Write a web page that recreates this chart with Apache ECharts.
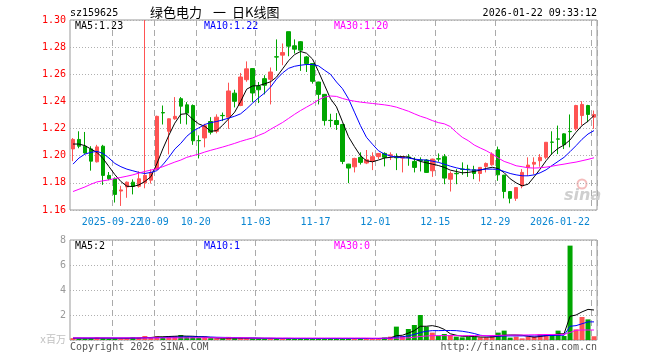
<!DOCTYPE html>
<html><head><meta charset="utf-8">
<script src="https://cdn.jsdelivr.net/npm/echarts@6/dist/echarts.min.js"></script>
<style>html,body{margin:0;padding:0;background:#fff}#c{width:660px;height:360px}</style>
</head><body><div id="c"></div><script>
const dates = [
 '2025-09-11','2025-09-12','2025-09-15','2025-09-16','2025-09-17','2025-09-18','2025-09-19','2025-09-22','2025-09-23','2025-09-24',
 '2025-09-25','2025-09-26','2025-09-29','2025-09-30','2025-10-09','2025-10-10','2025-10-13','2025-10-14','2025-10-15','2025-10-16',
 '2025-10-17','2025-10-20','2025-10-21','2025-10-22','2025-10-23','2025-10-24','2025-10-27','2025-10-28','2025-10-29','2025-10-30',
 '2025-10-31','2025-11-03','2025-11-04','2025-11-05','2025-11-06','2025-11-07','2025-11-10','2025-11-11','2025-11-12','2025-11-13',
 '2025-11-14','2025-11-17','2025-11-18','2025-11-19','2025-11-20','2025-11-21','2025-11-24','2025-11-25','2025-11-26','2025-11-27',
 '2025-11-28','2025-12-01','2025-12-02','2025-12-03','2025-12-04','2025-12-05','2025-12-08','2025-12-09','2025-12-10','2025-12-11',
 '2025-12-12','2025-12-15','2025-12-16','2025-12-17','2025-12-18','2025-12-19','2025-12-22','2025-12-23','2025-12-24','2025-12-25',
 '2025-12-26','2025-12-29','2025-12-30','2025-12-31','2026-01-05','2026-01-06','2026-01-07','2026-01-08','2026-01-09','2026-01-12',
 '2026-01-13','2026-01-14','2026-01-15','2026-01-16','2026-01-19','2026-01-20','2026-01-21','2026-01-22'];
const opens = [
 1.205,1.212,1.207,1.205,1.1955,1.207,1.1855,1.183,1.174,1.177,
 1.1805,1.1775,1.180,1.182,1.190,1.2318,1.218,1.2272,1.242,1.2375,
 1.237,1.2112,1.2131,1.2252,1.218,1.2297,1.2284,1.2461,1.237,1.256,
 1.2642,1.2511,1.2568,1.2563,1.2729,1.2741,1.2914,1.281,1.284,1.2728,
 1.2679,1.2543,1.2452,1.2261,1.2259,1.223,1.1938,1.1918,1.1988,1.1946,
 1.1958,1.1993,1.2017,1.2000,1.1988,1.1983,1.1990,1.1958,1.1968,1.1968,
 1.1889,1.1978,1.1993,1.1827,1.1870,1.1902,1.1901,1.1897,1.1869,1.1921,
 1.1933,1.2044,1.1857,1.1736,1.1686,1.1778,1.1914,1.1938,1.1963,1.1988,
 1.2101,1.2124,1.2161,1.2179,1.2198,1.2296,1.2370,1.2284];
const closes = [
 1.212,1.207,1.202,1.196,1.2065,1.1855,1.183,1.1715,1.1748,1.1805,
 1.1775,1.183,1.1855,1.1875,1.229,1.2315,1.2272,1.229,1.2365,1.2314,
 1.211,1.211,1.2222,1.2173,1.2284,1.2295,1.2477,1.2401,1.258,1.264,
 1.2462,1.2486,1.2519,1.2617,1.2727,1.276,1.2807,1.2785,1.2778,1.2679,
 1.2548,1.2452,1.2259,1.2259,1.223,1.1958,1.1909,1.198,1.1951,1.197,
 1.1993,1.2017,1.1988,1.2007,1.1985,1.1993,1.1988,1.1914,1.1965,1.1877,
 1.1975,1.1975,1.1835,1.1869,1.1867,1.1899,1.1899,1.1869,1.1914,1.1943,
 1.2012,1.1859,1.1736,1.1686,1.1765,1.1877,1.1931,1.1951,1.1988,1.2099,
 1.2099,1.2122,1.2081,1.2177,1.2370,1.2378,1.2304,1.2304];
const lows = [
 1.196,1.2055,1.2015,1.189,1.195,1.1785,1.182,1.1655,1.163,1.169,
 1.1715,1.1765,1.176,1.1795,1.1895,1.223,1.201,1.2265,1.2235,1.223,
 1.208,1.198,1.2062,1.2156,1.2165,1.2255,1.2198,1.2356,1.2365,1.2545,
 1.2395,1.2388,1.2452,1.2378,1.2625,1.2667,1.2733,1.2753,1.2625,1.2617,
 1.2531,1.2378,1.2222,1.221,1.219,1.1938,1.1798,1.1877,1.1935,1.1938,
 1.1894,1.1975,1.1921,1.1968,1.1894,1.1877,1.1926,1.1877,1.1884,1.1873,
 1.1844,1.1956,1.179,1.1736,1.179,1.1859,1.1844,1.1827,1.181,1.1877,
 1.1926,1.1815,1.1686,1.1649,1.1667,1.176,1.1852,1.1864,1.1919,1.1975,
 1.2007,1.2012,1.2049,1.2062,1.2185,1.2222,1.2247,1.2198];
const highs = [
 1.213,1.218,1.2175,1.207,1.208,1.208,1.188,1.184,1.1778,1.181,
 1.1825,1.1885,1.30,1.19,1.2295,1.237,1.2275,1.2432,1.2432,1.2395,
 1.2378,1.215,1.2235,1.2284,1.2305,1.2318,1.2538,1.2486,1.261,1.2695,
 1.2645,1.2543,1.2593,1.265,1.2857,1.2827,1.2914,1.2857,1.2845,1.2735,
 1.268,1.2545,1.2455,1.2309,1.2314,1.2235,1.194,1.1985,1.2025,1.2042,
 1.2025,1.2019,1.2025,1.2025,1.2017,1.1995,1.2012,1.1988,1.1988,1.1975,
 1.1978,1.2017,1.2012,1.1884,1.1901,1.1951,1.1933,1.1926,1.1916,1.195,
 1.2025,1.2067,1.1857,1.1736,1.1765,1.1901,1.1988,1.1988,1.2012,1.2099,
 1.218,1.2222,1.2165,1.2304,1.2375,1.2402,1.2375,1.2333];
const ma5 = [
 1.2086,1.2086,1.2074,1.2049,1.2025,1.1980,1.1920,1.1860,1.1810,1.1775,
 1.1773,1.1785,1.1810,1.1845,1.1940,1.2050,1.2150,1.2240,1.2305,1.2310,
 1.2268,1.2234,1.2217,1.2180,1.2185,1.2225,1.2272,1.2321,1.2400,1.2490,
 1.2514,1.2516,1.2530,1.2545,1.2580,1.2640,1.2700,1.2745,1.2768,1.2755,
 1.2712,1.2620,1.2520,1.2420,1.2360,1.2250,1.2140,1.2067,1.2000,1.1963,
 1.1955,1.1968,1.1983,1.1988,1.1993,1.1993,1.1990,1.1975,1.1958,1.1948,
 1.1938,1.1928,1.1914,1.1894,1.1884,1.1874,1.1877,1.1884,1.1894,1.1906,
 1.1915,1.1905,1.1875,1.1830,1.1800,1.1778,1.1790,1.1844,1.1901,1.1963,
 1.2017,1.2054,1.2079,1.2116,1.2173,1.2222,1.2254,1.2296];
const ma10 = [
 1.1938,1.1983,1.2012,1.2025,1.2032,1.2017,1.1983,1.1943,1.1919,1.1901,
 1.1889,1.1877,1.1869,1.1877,1.1890,1.1933,1.1988,1.2049,1.2091,1.2143,
 1.2180,1.2205,1.2230,1.2244,1.2252,1.2264,1.2277,1.2291,1.2309,1.2346,
 1.2388,1.2427,1.2462,1.2506,1.2565,1.2610,1.2644,1.2659,1.2667,1.2672,
 1.2672,1.2662,1.2630,1.2600,1.2543,1.2494,1.2420,1.2321,1.2222,1.2136,
 1.2085,1.2037,1.2012,1.1998,1.1990,1.1985,1.1983,1.1975,1.1970,1.1968,
 1.1960,1.1951,1.1938,1.1923,1.1911,1.1901,1.1896,1.1894,1.1896,1.1901,
 1.1901,1.1899,1.1884,1.1869,1.1859,1.1852,1.1852,1.1859,1.1874,1.1896,
 1.1928,1.1958,1.1988,1.2030,1.2074,1.2121,1.2160,1.2185];
const ma30 = [
 1.1736,1.1753,1.1770,1.1790,1.1807,1.1815,1.1822,1.1832,1.1840,1.1849,
 1.1859,1.1872,1.1884,1.1894,1.1904,1.1919,1.1936,1.1953,1.1968,1.1988,
 1.2000,1.2012,1.2027,1.2040,1.2052,1.2064,1.2077,1.2091,1.2106,1.2119,
 1.2131,1.2150,1.2168,1.2195,1.2220,1.2245,1.2275,1.2305,1.2333,1.2358,
 1.2383,1.2412,1.2432,1.2440,1.2437,1.2422,1.2410,1.2402,1.2395,1.2390,
 1.2385,1.2380,1.2375,1.2368,1.2358,1.2343,1.2328,1.2309,1.2291,1.2277,
 1.2259,1.2244,1.2235,1.2215,1.2173,1.2136,1.2111,1.2079,1.2057,1.2037,
 1.2012,1.1983,1.1958,1.1943,1.1926,1.1919,1.1911,1.1909,1.1911,1.1916,
 1.1923,1.1931,1.1938,1.1946,1.1953,1.1963,1.1973,1.1985];
const volumes = [
 0.15,0.12,0.12,0.15,0.21,0.15,0.12,0.13,0.12,0.15,
 0.22,0.20,0.32,0.20,0.30,0.25,0.32,0.32,0.40,0.28,
 0.27,0.20,0.28,0.15,0.13,0.12,0.25,0.15,0.18,0.15,
 0.12,0.12,0.10,0.12,0.13,0.10,0.15,0.12,0.12,0.10,
 0.12,0.13,0.12,0.10,0.12,0.13,0.12,0.10,0.12,0.10,
 0.12,0.15,0.20,0.27,1.07,0.32,0.88,1.20,2.00,1.07,
 0.59,0.35,0.48,0.40,0.27,0.21,0.27,0.27,0.21,0.21,
 0.37,0.59,0.75,0.19,0.27,0.13,0.27,0.27,0.48,0.48,
 0.40,0.75,0.32,7.55,0.85,1.84,1.65,0.30];
const volMa5 = [
 0.15,0.15,0.14,0.14,0.15,0.15,0.15,0.14,0.14,0.14,
 0.15,0.16,0.20,0.20,0.25,0.26,0.28,0.30,0.32,0.31,
 0.30,0.27,0.25,0.20,0.16,0.14,0.15,0.15,0.15,0.15,
 0.15,0.14,0.13,0.13,0.12,0.12,0.12,0.12,0.12,0.12,
 0.12,0.12,0.12,0.12,0.12,0.12,0.12,0.12,0.12,0.12,
 0.12,0.12,0.13,0.16,0.35,0.38,0.55,0.75,1.10,1.10,
 1.15,1.05,0.85,0.50,0.38,0.30,0.30,0.28,0.24,0.23,
 0.24,0.30,0.38,0.40,0.40,0.38,0.30,0.23,0.28,0.35,
 0.38,0.48,0.50,1.90,2.00,2.25,2.45,2.40];
const volMa10 = [
 0.16,0.16,0.16,0.16,0.16,0.16,0.16,0.16,0.16,0.16,
 0.16,0.16,0.17,0.17,0.19,0.20,0.22,0.23,0.24,0.25,
 0.25,0.25,0.25,0.24,0.22,0.21,0.20,0.19,0.18,0.17,
 0.16,0.15,0.14,0.14,0.13,0.13,0.13,0.12,0.12,0.12,
 0.12,0.12,0.12,0.12,0.12,0.12,0.12,0.12,0.12,0.12,
 0.12,0.12,0.13,0.14,0.23,0.26,0.33,0.45,0.60,0.70,
 0.75,0.75,0.76,0.76,0.75,0.70,0.62,0.52,0.38,0.33,
 0.32,0.30,0.32,0.33,0.33,0.33,0.33,0.32,0.33,0.35,
 0.36,0.38,0.38,1.10,1.15,1.30,1.45,1.45];
const volMa30 = [
 0.17,0.17,0.17,0.17,0.17,0.17,0.17,0.17,0.17,0.17,
 0.17,0.17,0.17,0.17,0.17,0.17,0.17,0.17,0.17,0.17,
 0.18,0.18,0.18,0.18,0.18,0.18,0.18,0.18,0.18,0.18,
 0.16,0.16,0.16,0.16,0.16,0.16,0.16,0.16,0.16,0.16,
 0.16,0.16,0.16,0.16,0.16,0.16,0.16,0.16,0.16,0.16,
 0.15,0.15,0.15,0.15,0.15,0.15,0.18,0.22,0.28,0.32,
 0.35,0.35,0.35,0.35,0.35,0.35,0.35,0.35,0.35,0.35,
 0.36,0.37,0.38,0.39,0.40,0.40,0.41,0.42,0.43,0.44,
 0.44,0.45,0.45,0.60,0.78,0.80,0.80,0.80];
const tickDates = ['2025-09-22','2025-10-09','2025-10-20','2025-11-03','2025-11-17','2025-12-01','2025-12-15','2025-12-29','2026-01-22'];
const tickLabels = ['2025-09-22','10-09','10-20','11-03','11-17','12-01','12-15','12-29','2026-01-22'];
const priceLegend = ['MA5:1.23','MA10:1.22','MA30:1.20'];
const volLegend = ['MA5:2','MA10:1','MA30:0'];
const titleParts = ['绿色电力', '一', '日K线图'];

const MONO = '"DejaVu Sans Mono","Liberation Mono","Noto Sans CJK SC",monospace';
const CJK = '13px "Noto Sans CJK SC"';
const RED = '#ff5353', GREEN = '#00a600';
const tickIdx = new Set(tickDates.map(d => dates.indexOf(d)));
const isTick = (i) => tickIdx.has(i);
const firstTick = dates.indexOf(tickDates[0]);
const isLaterTick = (i) => tickIdx.has(i) && i !== firstTick;
const isFirstTick = (i) => i === firstTick;
const kData = dates.map((d, i) => [opens[i], closes[i], lows[i], highs[i]]);
const volData = volumes.map((v, i) => ({value: v, itemStyle: {color: closes[i] >= opens[i] ? RED : GREEN}}));

const chart = echarts.init(document.getElementById('c'), null, {renderer: 'canvas'});
const vSplit = {show: true, interval: isTick, lineStyle: {color: '#aaaaaa', width: 1, type: [6, 4]}};
const hSplit = {show: true, lineStyle: {color: '#b0b0b0', width: 1, type: [1, 2]}};
const labelFmt = (v) => {
  const k = tickDates.indexOf(v);
  if (k < 0) return '';
  return (k === tickDates.length - 1 ? '{b|' : '{a|') + tickLabels[k] + '}';
};
const labelRich = {
  a: {fontFamily: MONO, fontSize: 10, color: '#0a86d2', padding: [0, 6, 0, 0]},
  b: {fontFamily: MONO, fontSize: 10, color: '#0a86d2', padding: [0, 68, 0, 0]}
};
const lineS = (name, data, color, xi, yi) => ({
  name, type: 'line', data, xAxisIndex: xi, yAxisIndex: yi, showSymbol: false, symbol: 'none',
  lineStyle: {color, width: 1}, itemStyle: {color}, animation: false, silent: true, z: 5
});
const txt = (text, x, y, fill, align, font) => ({
  type: 'text', x, y, silent: true,
  style: {text, fill, font: font || ('10px ' + MONO), align: align || 'left', textAlign: align || 'left', verticalAlign: 'middle', textVerticalAlign: 'middle'}
});

chart.setOption({
  animation: false,
  backgroundColor: '#ffffff',
  grid: [
    {left: 70, top: 20, width: 527, height: 190, show: true, borderColor: '#999999', borderWidth: 1, backgroundColor: 'transparent'},
    {left: 70, top: 240, width: 527, height: 100, show: true, borderColor: '#999999', borderWidth: 1, backgroundColor: 'transparent'}
  ],
  xAxis: [
    {type: 'category', gridIndex: 0, position: 'bottom', data: dates, boundaryGap: true,
     axisLine: {show: false}, axisTick: {show: false}, splitLine: vSplit,
     axisLabel: {show: true, interval: isLaterTick, margin: 7, formatter: labelFmt, rich: labelRich}},
    {type: 'category', gridIndex: 1, data: dates, boundaryGap: true,
     axisLine: {show: false}, axisTick: {show: false}, axisLabel: {show: false}, splitLine: vSplit},
    {type: 'category', gridIndex: 0, position: 'bottom', offset: 0, data: dates, boundaryGap: true,
     axisLine: {show: false}, axisTick: {show: false}, splitLine: {show: false},
     axisLabel: {show: true, interval: isFirstTick, margin: 7, formatter: labelFmt, rich: labelRich}}
  ],
  yAxis: [
    {type: 'value', gridIndex: 0, min: 1.16, max: 1.30, interval: 0.02, scale: true,
     axisLine: {show: false}, axisTick: {show: false}, splitLine: hSplit,
     axisLabel: {color: '#ff0000', fontFamily: MONO, fontSize: 10, margin: 4, formatter: (v) => v.toFixed(2)}},
    {type: 'value', gridIndex: 1, min: 0, max: 8, interval: 2,
     axisLine: {show: false}, axisTick: {show: false}, splitLine: hSplit,
     axisLabel: {color: '#999999', fontFamily: MONO, fontSize: 10, margin: 4,
       formatter: (v) => v === 0 ? '{u|x百万}' : String(v),
       rich: {u: {color: '#c0c0c0', fontSize: 10, fontFamily: MONO}}}}
  ],
  series: [
    {name: 'K', type: 'candlestick', data: kData, xAxisIndex: 0, yAxisIndex: 0, barWidth: 4,
     itemStyle: {color: RED, color0: GREEN, borderColor: RED, borderColor0: GREEN, borderWidth: 1}, z: 3},
    lineS('MA5', ma5, '#000000', 0, 0),
    lineS('MA10', ma10, '#0000ff', 0, 0),
    lineS('MA30', ma30, '#ff00ff', 0, 0),
    {name: 'VOL', type: 'bar', data: volData, xAxisIndex: 1, yAxisIndex: 1, barWidth: 5, z: 3},
    lineS('VMA5', volMa5, '#000000', 1, 1),
    lineS('VMA10', volMa10, '#0000ff', 1, 1),
    lineS('VMA30', volMa30, '#ff00ff', 1, 1)
  ],
  graphic: [
    txt('sz159625', 70, 13, '#000000'),
    txt(titleParts[0], 150, 12, '#000000', 'left', CJK),
    txt(titleParts[1], 213, 12, '#000000', 'left', CJK),
    txt(titleParts[2], 232, 12, '#000000', 'left', CJK),
    txt('2026-01-22 09:33:12', 597, 13, '#000000', 'right'),
    txt(priceLegend[0], 75, 26, '#000000'),
    txt(priceLegend[1], 204, 26, '#0000ff'),
    txt(priceLegend[2], 334, 26, '#ff00ff'),
    txt(volLegend[0], 75, 246, '#000000'),
    txt(volLegend[1], 204, 246, '#0000ff'),
    txt(volLegend[2], 334, 246, '#ff00ff'),
    txt('Copyright 2026 SINA.COM', 70, 347, '#555555'),
    txt('http://finance.sina.com.cn', 597, 347, '#555555', 'right'),
    txt('sina', 564, 196, '#cfcfcf', 'left', 'italic bold 16px "DejaVu Sans"'),
    {type: 'circle', silent: true, shape: {cx: 582, cy: 184, r: 4.5}, style: {fill: 'none', stroke: '#f4bcbc', lineWidth: 2}}
  ]
});
</script></body></html>
